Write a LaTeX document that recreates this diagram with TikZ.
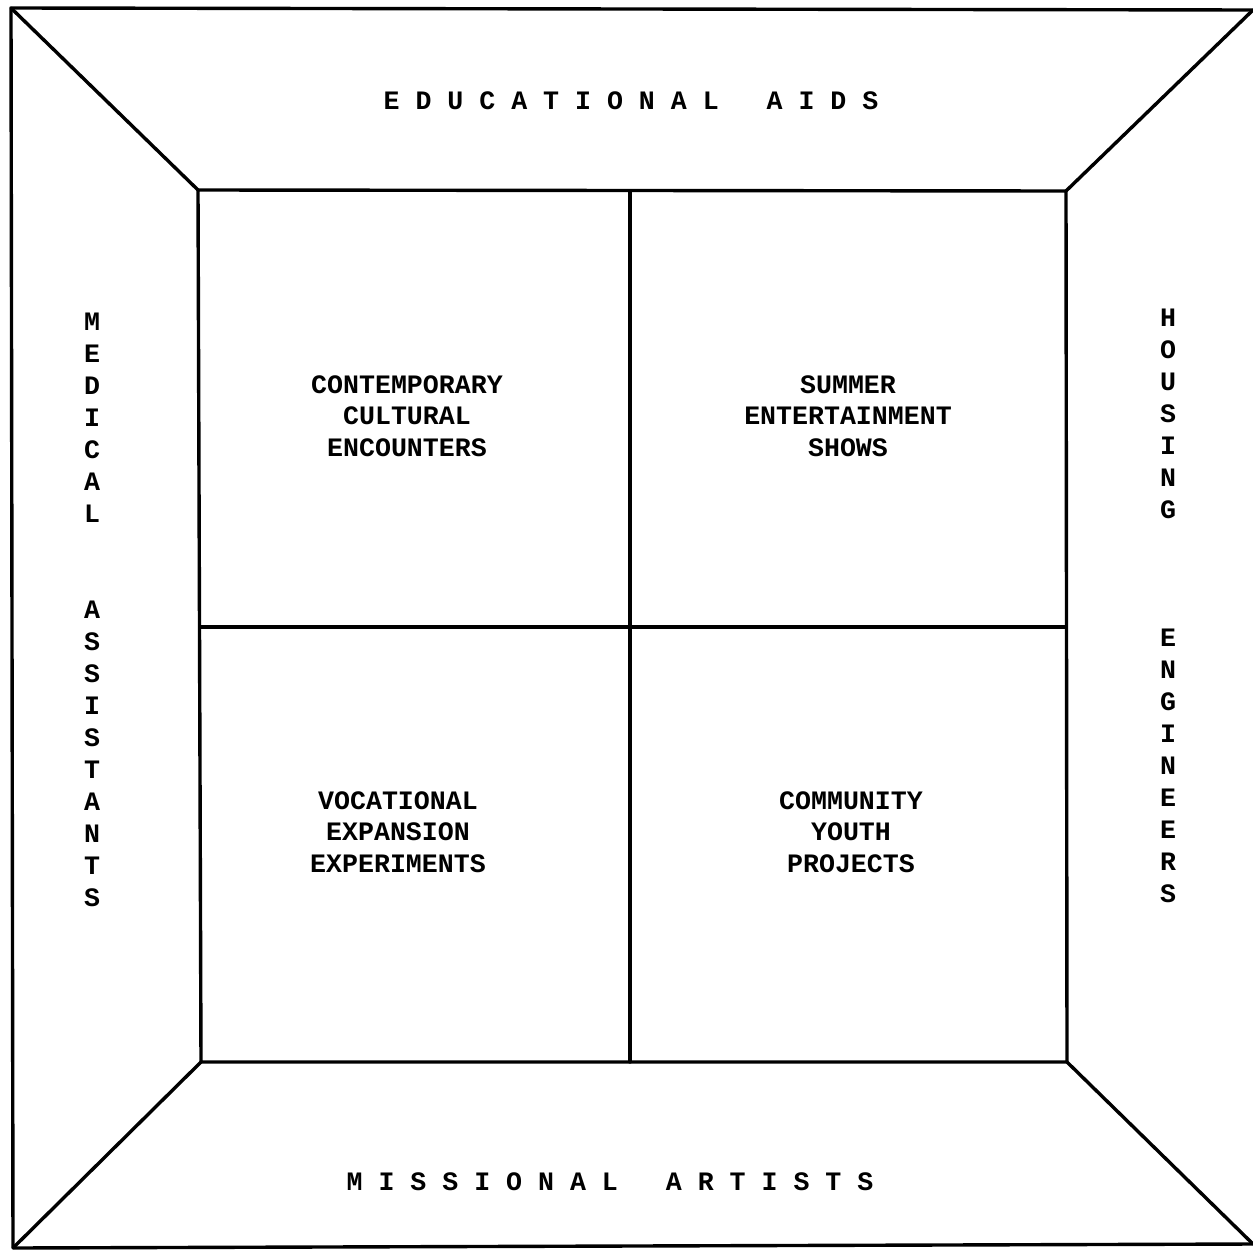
\documentclass[tikz,border=0pt]{standalone}
\usepackage{fontspec}
\newfontfamily\tw{Liberation Mono}
\begin{document}
\begin{tikzpicture}[x=1pt,y=-1pt,
  frame/.style={line width=3.4pt,line cap=round,line join=round,black},
  lbl/.style={inner sep=0pt,align=center,font=\tw\bfseries\fontsize{26.6}{31.6}\selectfont},
  vlbl/.style={inner sep=0pt,align=center,font=\tw\bfseries\fontsize{26.6}{32}\selectfont}]
\useasboundingbox (0,0) rectangle (1253,1250);
% outer corners
\coordinate (o1) at (11,8);
\coordinate (o2) at (1253,10);
\coordinate (o3) at (1253,1244);
\coordinate (o4) at (13,1248);
% inner corners
\coordinate (i1) at (198,190);
\coordinate (i2) at (1066,191);
\coordinate (i3) at (1067,1062);
\coordinate (i4) at (201,1062);
% mid points
\coordinate (mt) at (630,192);
\coordinate (mb) at (630,1062);
\coordinate (ml) at (200,627);
\coordinate (mr) at (1066,627);
% frame
\draw[frame] (o2) -- (o1) -- (o4) -- (o3);
\draw[frame] (i1) -- (i2) -- (i3) -- (i4) -- cycle;
\draw[frame] (mt) -- (mb);
\draw[frame] (ml) -- (mr);
\draw[frame] (o1) -- (i1);
\draw[frame] (o2) -- (i2);
\draw[frame] (o3) -- (i3);
\draw[frame] (o4) -- (i4);
% side labels
\node[lbl] (top) at (631,101) {E D U C A T I O N A L\ \ \ A I D S};
\node[lbl] (bot) at (610,1182) {M I S S I O N A L\ \ \ A R T I S T S};
\node[vlbl,anchor=north] (left) at (92,313) {M\\E\\D\\I\\C\\A\\L\\[64pt]A\\S\\S\\I\\S\\T\\A\\N\\T\\S};
\node[vlbl,anchor=north] (right) at (1168,309) {H\\O\\U\\S\\I\\N\\G\\[96pt]E\\N\\G\\I\\N\\E\\E\\R\\S};
% cell labels
\node[lbl] (c1) at (407,416) {CONTEMPORARY\\CULTURAL\\ENCOUNTERS};
\node[lbl] (c2) at (848,416) {SUMMER\\ENTERTAINMENT\\SHOWS};
\node[lbl] (c3) at (398,832) {VOCATIONAL\\EXPANSION\\EXPERIMENTS};
\node[lbl] (c4) at (851,832) {COMMUNITY\\YOUTH\\PROJECTS};
\end{tikzpicture}
\end{document}
